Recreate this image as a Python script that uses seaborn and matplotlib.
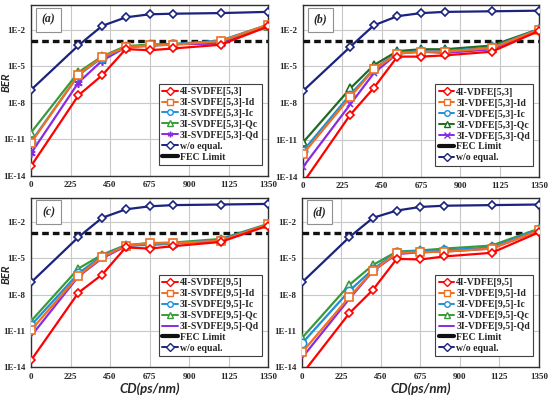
import numpy as np
import pandas as pd
import matplotlib
matplotlib.use('Agg')
import matplotlib.pyplot as plt
import seaborn as sns
from matplotlib.lines import Line2D

sns.set_style('white')
SERIF = 'Liberation Serif'
SANS = ['Lato', 'DejaVu Sans']

# CD points (ps/nm)
cd = [0, 270, 405, 540, 675, 810, 1080, 1350]
xticks = [0, 225, 450, 675, 900, 1125, 1350]
yticks = [1e-14, 1e-11, 1e-8, 1e-5, 1e-2]
ytick_labels = ['1E-14', '1E-11', '1E-8', '1E-5', '1E-2']
fec_limit = 1.2e-3

# log10(BER)
# (a) SVDFE[5,3]
a_4i = [-13.2, -7.4, -5.75, -3.6, -3.7, -3.55, -3.25, -1.75]
a_id = [-11.3, -5.7, -4.25, -3.45, -3.3, -3.25, -2.95, -1.6]
a_ic = [-11.2, -5.75, -4.3, -3.45, -3.35, -3.2, -2.9, -1.6]
a_qc = [-10.45, -5.5, -4.2, -3.35, -3.25, -3.2, -2.95, -1.7]
a_qd = [-12.15, -6.35, -4.55, -3.45, -3.25, -3.2, -3.15, -1.7]
a_wo = [-6.95, -3.3, -1.7, -1.0, -0.75, -0.7, -0.65, -0.55]

# (b) VDFE[5,3]
b_4i = [-14.5, -8.95, -6.75, -4.2, -4.2, -4.1, -3.8, -2.1]
b_id = [-12.15, -7.5, -5.25, -3.95, -3.8, -3.8, -3.5, -2.0]
b_ic = [-11.9, -7.3, -5.2, -3.9, -3.75, -3.75, -3.45, -1.95]
b_qc = [-11.2, -6.8, -4.9, -3.75, -3.6, -3.6, -3.3, -1.95]
b_qd = [-13.2, -8.1, -5.55, -3.95, -3.8, -3.9, -3.6, -2.1]
b_wo = [-7.0, -3.4, -1.65, -0.9, -0.65, -0.55, -0.5, -0.45]

# (c) SVDFE[9,5]
c_4i = [-13.45, -7.85, -6.35, -4.1, -4.2, -4.0, -3.65, -2.3]
c_id = [-10.95, -6.45, -4.9, -3.95, -3.75, -3.75, -3.55, -2.2]
c_ic = [-10.55, -6.25, -4.8, -3.95, -3.9, -3.8, -3.45, -2.2]
c_qc = [-10.2, -5.85, -4.7, -3.9, -3.75, -3.7, -3.4, -2.15]
c_qd = [-11.45, -6.5, -5.0, -4.0, -3.8, -3.75, -3.55, -2.2]
c_wo = [-7.0, -3.25, -1.65, -0.95, -0.7, -0.6, -0.55, -0.5]

# (d) VDFE[9,5]
d_4i = [-14.6, -9.55, -7.6, -5.05, -5.1, -4.85, -4.55, -2.85]
d_id = [-12.8, -8.2, -6.05, -4.55, -4.5, -4.45, -4.2, -2.7]
d_ic = [-12.05, -7.7, -5.9, -4.5, -4.4, -4.35, -4.1, -2.6]
d_qc = [-11.6, -7.2, -5.55, -4.45, -4.35, -4.2, -3.95, -2.55]
d_qd = [-13.25, -8.35, -6.05, -4.65, -4.5, -4.45, -4.2, -2.7]
d_wo = [-7.0, -3.25, -1.65, -1.05, -0.75, -0.65, -0.6, -0.55]

panels = [
    ('(a)', 'SVDFE[5,3]', [a_4i, a_id, a_ic, a_qc, a_qd, a_wo], (6, 2, 0), '#3a9a3a', True),
    ('(b)', 'VDFE[5,3]', [b_4i, b_id, b_ic, b_qc, b_qd, b_wo], 'x', '#1f6b1f', False),
    ('(c)', 'SVDFE[9,5]', [c_4i, c_id, c_ic, c_qc, c_qd, c_wo], None, '#3a9a3a', False),
    ('(d)', 'VDFE[9,5]', [d_4i, d_id, d_ic, d_qc, d_qd, d_wo], None, '#3a9a3a', False),
]

colors = ['#ff0000', '#f07020', '#1e90d8', None, '#8a2be2', '#1a237e']
markers = ['D', 's', 'o', '^', None, 'D']
msizes = [4.5, 5.5, 6, 6, 6, 4.5]

fig = plt.figure(figsize=(5.5, 3.97), dpi=100)
positions = [
    [0.0564, 0.557, 0.431, 0.430],
    [0.551, 0.555, 0.429, 0.432],
    [0.0564, 0.0756, 0.431, 0.426],
    [0.549, 0.0756, 0.431, 0.426],
]

for k, (tag, name, series, qd_marker, qc_color, wo_first) in enumerate(panels):
    ax = fig.add_axes(positions[k])
    labels = ['4I-' + name, '3I-' + name + '-Id', '3I-' + name + '-Ic',
              '3I-' + name + '-Qc', '3I-' + name + '-Qd', 'w/o equal.']
    handles = []
    for i, vals in enumerate(series):
        col = qc_color if i == 3 else colors[i]
        mk = qd_marker if i == 4 else markers[i]
        ms = 4 if (i == 4 and mk == 'x') else msizes[i]
        df = pd.DataFrame({'cd': cd, 'ber': 10.0 ** np.array(vals)})
        sns.lineplot(data=df, x='cd', y='ber', ax=ax, color=col, lw=1.6,
                     marker=mk, markersize=ms, markerfacecolor='white',
                     markeredgecolor=col, markeredgewidth=1.2,
                     zorder=5 - i * 0.1 if i < 5 else 6)
        handles.append(Line2D([], [], color=col, lw=1.4, marker=mk, markersize=4,
                              markerfacecolor='white', markeredgecolor=col,
                              markeredgewidth=1.0))
    ax.axhline(fec_limit, color='#111111', lw=2.4, dashes=(2.0, 1.2), zorder=3)
    fec_handle = Line2D([], [], color='#111111', lw=3)

    if wo_first:
        leg_h = handles + [fec_handle]
        leg_l = labels + ['FEC Limit']
    else:
        leg_h = handles[:5] + [fec_handle, handles[5]]
        leg_l = labels[:5] + ['FEC Limit', labels[5]]

    ax.set_yscale('log')
    ax.set_xlim(0, 1350)
    ax.set_ylim(1e-14, 1)
    ax.set_xticks(xticks)
    ax.set_xticklabels([str(t) for t in xticks], family=SERIF, fontweight='bold', fontsize=6.5)
    ax.set_yticks(yticks)
    ax.set_yticklabels(ytick_labels, family=SERIF, fontweight='bold', fontsize=6.5)
    ax.minorticks_off()
    ax.tick_params(length=0, pad=4)
    ax.grid(True, color='#c8c8c8', lw=0.8)
    for sp in ax.spines.values():
        sp.set_color('#303030')
        sp.set_linewidth(1.0)

    if k in (0, 2):
        ax.set_ylabel('BER', family=SANS, fontstyle='italic', fontweight='bold', fontsize=8)
        ax.yaxis.set_label_coords(-0.083, 0.55)
    else:
        ax.set_ylabel('')
    if k in (2, 3):
        ax.set_xlabel('CD(ps/nm)', family=SANS, fontstyle='italic', fontweight='bold',
                      fontsize=9.5, labelpad=1)
    else:
        ax.set_xlabel('')

    leg = ax.legend(leg_h, leg_l, loc='lower right', bbox_to_anchor=(0.997, 0.035),
                    prop={'family': SERIF, 'weight': 'bold', 'size': 7},
                    handlelength=1.6, handletextpad=0.2, labelspacing=0.2,
                    borderpad=0.35, frameon=True, fancybox=False, framealpha=1,
                    edgecolor='#404040')
    leg.get_frame().set_linewidth(0.8)
    leg.set_zorder(10)

    ax.text(0.074, 0.915, tag, transform=ax.transAxes, ha='center', va='center',
            family=SERIF, fontstyle='italic', fontweight='bold', fontsize=8.5,
            bbox=dict(boxstyle='square,pad=0.5', fc='white', ec='#909090', lw=0.8),
            zorder=11)

fig.savefig('out.png', dpi=100)
